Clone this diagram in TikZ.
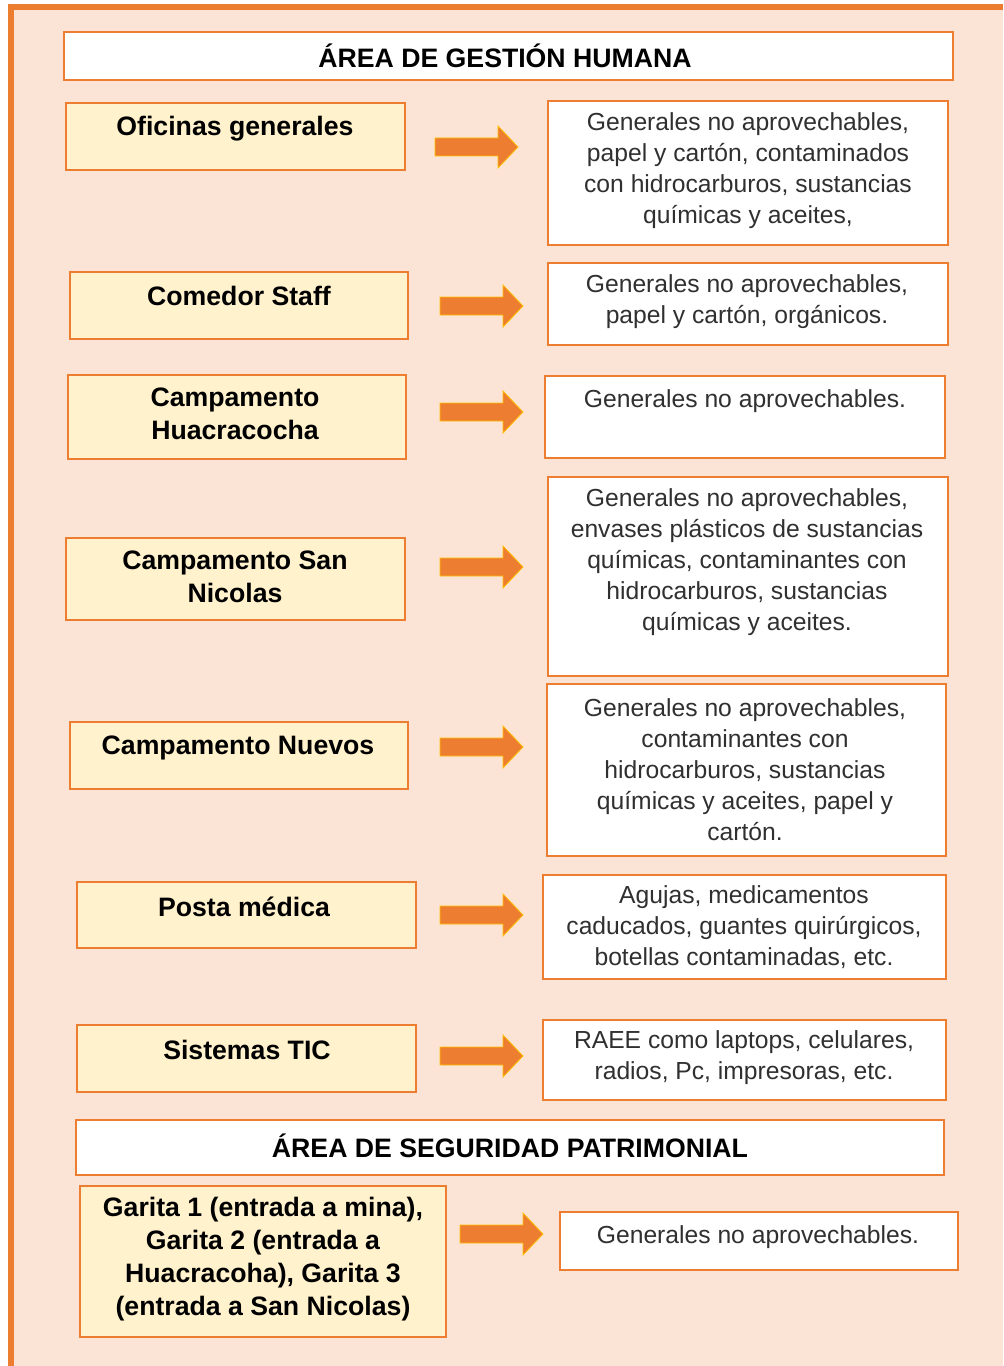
\documentclass[tikz,border=0pt]{standalone}
\usepackage{fontspec}
\setmainfont{Liberation Sans}
\usetikzlibrary{fit}
\definecolor{naranja}{HTML}{ED7D31}
\definecolor{fondo}{HTML}{FBE4D6}
\definecolor{crema}{HTML}{FFF2CC}
\definecolor{ambar}{HTML}{FFC000}
\definecolor{gristexto}{HTML}{303030}
\tikzset{
  caja/.style={draw=naranja, line width=1.5pt, inner sep=0pt},
  origen/.style={caja, fill=crema},
  residuo/.style={caja, fill=white},
  titulo/.style={caja, fill=white},
  lbl/.style={font=\bfseries\fontsize{20}{24.75}\selectfont, align=center, inner sep=0pt},
  txt/.style={font=\fontsize{18.5}{23.25}\selectfont, text=gristexto, align=center, inner sep=0pt},
  pics/flecha/.style={code={
      \draw[fill=naranja, draw=ambar, line width=0.6pt, line join=miter]
        (0,-9) -- (63,-9) -- (63,-21) -- (83,0) -- (63,21) -- (63,9) -- (0,9) -- cycle;
    }}
}
\begin{document}
\begin{tikzpicture}[x=0.75pt,y=-0.75pt]
  \useasboundingbox (0,0) rectangle (1003,1366);
  \fill[white] (0,0) rectangle (1003,1366);
  \fill[fondo] (10.5,7.5) rectangle (1003,1366);
  \draw[naranja, line width=4.5pt] (10.5,1366) -- (10.5,7.5) -- (1003,7.5);

  % area de gestion humana
  \node[titulo, fit={(64,32) (953,80)}] (tit1) {};
  \node[lbl] (tit1-t) at (505,56) {ÁREA DE GESTIÓN HUMANA};

  \node[origen, fit={(66,103) (405,170)}] (ofi) {};
  \node[lbl] (ofi-t) at (235,129) {Oficinas generales};
  \node[residuo, fit={(548,101) (948,245)}] (res1) {};
  \node[txt] (res1-t) at (748,171) {Generales no aprovechables,\\ papel y cartón, contaminados\\ con hidrocarburos, sustancias\\ químicas y aceites,};

  \node[origen, fit={(70,272) (408,339)}] (com) {};
  \node[lbl] (com-t) at (239,296) {Comedor Staff};
  \node[residuo, fit={(548,263) (948,345)}] (res2) {};
  \node[txt] (res2-t) at (747,302) {Generales no aprovechables,\\ papel y cartón, orgánicos.};

  \node[origen, fit={(68,375) (406,459)}] (hua) {};
  \node[lbl] (hua-t) at (235,414) {Campamento\\ Huacracocha};
  \node[residuo, fit={(545,376) (945,458)}] (res3) {};
  \node[txt] (res3-t) at (745,401.5) {Generales no aprovechables.};

  \node[origen, fit={(66,538) (405,620)}] (sni) {};
  \node[lbl] (sni-t) at (235,577) {Campamento San\\ Nicolas};
  \node[residuo, fit={(548,477) (948,676)}] (res4) {};
  \node[txt] (res4-t) at (747,562.5) {Generales no aprovechables,\\ envases plásticos de sustancias\\ químicas, contaminantes con\\ hidrocarburos, sustancias\\ químicas y aceites.};

  \node[origen, fit={(70,722) (408,789)}] (nue) {};
  \node[lbl] (nue-t) at (238,748) {Campamento Nuevos};
  \node[residuo, fit={(547,684) (946,856)}] (res5) {};
  \node[txt] (res5-t) at (745,770) {Generales no aprovechables,\\ contaminantes con\\ hidrocarburos, sustancias\\ químicas y aceites, papel y\\ cartón.};

  \node[origen, fit={(77,882) (416,948)}] (pos) {};
  \node[lbl] (pos-t) at (244,907) {Posta médica};
  \node[residuo, fit={(543,875) (946,979)}] (res6) {};
  \node[txt] (res6-t) at (744,927.5) {Agujas, medicamentos\\ caducados, guantes quirúrgicos,\\ botellas contaminadas, etc.};

  \node[origen, fit={(77,1025) (416,1092)}] (tic) {};
  \node[lbl] (tic-t) at (247,1050) {Sistemas TIC};
  \node[residuo, fit={(543,1020) (946,1100)}] (res7) {};
  \node[txt] (res7-t) at (744,1058) {RAEE como laptops, celulares,\\ radios, Pc, impresoras, etc.};

  % area de seguridad patrimonial
  \node[titulo, fit={(76,1120) (944,1175)}] (tit2) {};
  \node[lbl] (tit2-t) at (510,1146) {ÁREA DE SEGURIDAD PATRIMONIAL};

  \node[origen, fit={(80,1186) (446,1337)}] (gar) {};
  \node[lbl] (gar-t) at (263,1259) {Garita 1 (entrada a mina),\\ Garita 2 (entrada a\\ Huacracoha), Garita 3\\ (entrada a San Nicolas)};
  \node[residuo, fit={(560,1212) (958,1270)}] (res8) {};
  \node[txt] (res8-t) at (758,1237.5) {Generales no aprovechables.};

  % flechas
  \foreach \x/\y in {435/147, 440/306, 440/412, 440/567, 440/747, 440/915, 440/1056, 460/1234}
    \pic at (\x,\y) {flecha};
\end{tikzpicture}
\end{document}
